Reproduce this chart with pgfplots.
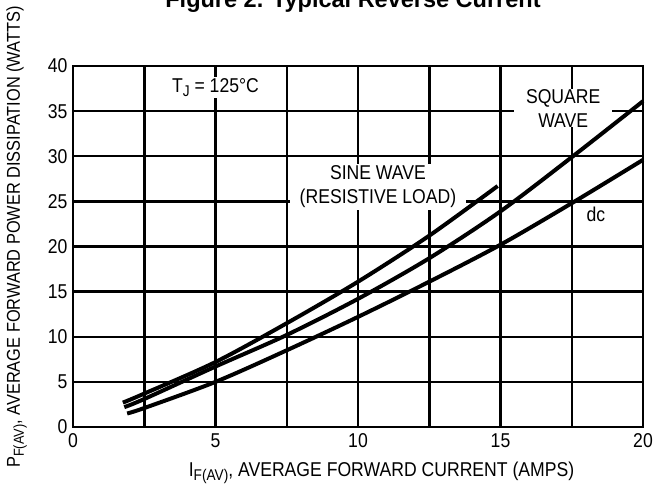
\documentclass[border=0pt]{standalone}
\usepackage{fontspec}
\setmainfont{Liberation Sans}[FakeStretch=0.88]
\newfontfamily\titlefont{Liberation Sans}
\usepackage{pgfplots}
\pgfplotsset{compat=1.18}
\newcommand\sub[1]{\raisebox{-4.5pt}{\fontsize{15.5}{16}\selectfont #1}}
\newcommand\subs[1]{\raisebox{-4pt}{\fontsize{14.5}{15}\selectfont #1}}
\begin{document}
\begin{tikzpicture}
\begin{axis}[
  name=ax,
  scale only axis, width=570pt, height=361pt,
  xmin=0, xmax=20, ymin=0, ymax=40,
  xtick={0,5,10,15,20}, minor xtick={2.5,7.5,12.5,17.5},
  ytick={0,5,...,40},
  grid=both,
  major grid style={black, line width=2.5pt},
  minor grid style={black, line width=2.5pt},
  axis line style={black, line width=2.6pt},
  major tick length=0pt, minor tick length=0pt,
  tick label style={font=\fontsize{20}{20}\selectfont},
  /pgf/number format/assume math mode=true,
  xticklabel style={yshift=-3pt},
  yticklabel style={xshift=-2pt},
  clip=false,
]
\node[fill=white, inner sep=1pt, font=\fontsize{20}{20}\selectfont] at (axis cs:5.0,37.6) {T\sub{J} = 125°C};
\node[fill=white, inner xsep=12pt, inner ysep=0pt, align=center, font=\fontsize{20}{24}\selectfont] at (axis cs:17.2,35.3) {SQUARE\\WAVE};
\node[fill=white, inner xsep=10pt, inner ysep=2pt, align=center, font=\fontsize{20}{24}\selectfont] at (axis cs:10.7,26.6) {SINE WAVE\\(RESISTIVE LOAD)};
\node[font=\fontsize{20}{20}\selectfont] at (axis cs:18.35,23.6) {dc};
\addplot[black, line width=4pt, smooth] coordinates {
  (1.75,2.7) (2.5,3.7) (5,7.2) (7.5,11.5) (10,16.1) (12.5,21.2) (14.9,26.7)};
\addplot[black, line width=4pt, smooth] coordinates {
  (1.8,2.2) (2.5,3.1) (5,6.7) (7.5,10.2) (10,14.2) (12.5,18.7) (15,23.9) (17.5,29.9) (20,36.1)};
\addplot[black, line width=4pt, smooth] coordinates {
  (1.9,1.5) (2.5,2.1) (5,5.0) (7.5,8.5) (10,12.2) (12.5,16.1) (15,20.2) (17.5,24.8) (20,29.6)};
\end{axis}
\node[font=\titlefont\bfseries\fontsize{23.5}{24}\selectfont, anchor=base] at ([xshift=-5pt, yshift=58pt]ax.north) {Figure 2. Typical Reverse Current};
\node[rotate=90, anchor=base, font=\fontsize{18.6}{19}\selectfont] at ([xshift=-53pt, yshift=9.5pt]ax.west) {P\subs{F(AV)}, AVERAGE FORWARD POWER DISSIPATION (WATTS)};
\node[anchor=base, font=\fontsize{20}{20}\selectfont] at ([xshift=308.5pt, yshift=-49pt]ax.south west) {I\sub{F(AV)}, AVERAGE FORWARD CURRENT (AMPS)};
\pgfresetboundingbox
\useasboundingbox ([shift={(-73pt,-68pt)}]ax.south west) rectangle ([shift={(25pt,66pt)}]ax.north east);
\end{tikzpicture}
\end{document}
